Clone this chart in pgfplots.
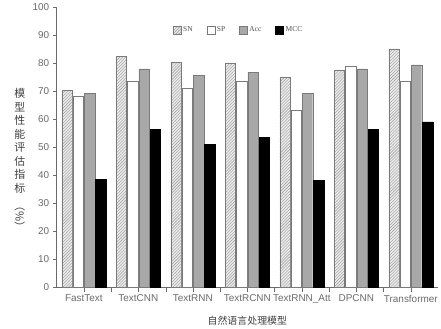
\documentclass[border=0pt]{standalone}
\usepackage{pgfplots}
\pgfplotsset{compat=1.18}
\usepackage{fontspec}
\setmainfont{Liberation Serif}
\newfontfamily\arial{Liberation Sans}
\newfontfamily\cjk{Noto Sans CJK SC}
\usetikzlibrary{patterns}
\definecolor{tickgray}{HTML}{6A6A6A}
\definecolor{edgegray}{HTML}{7A7A7A}
\definecolor{accgray}{HTML}{A8A8A8}
\begin{document}
\begin{tikzpicture}
\begin{axis}[
  scale only axis, width=384pt, height=282.6pt,
  ymin=0, ymax=100, xmin=-0.5, xmax=6.5, clip=false,
  axis x line*=bottom, axis y line*=left,
  axis line style={tickgray, -},
  xtick={0,...,6},
  xticklabels={FastText,TextCNN,TextRNN,TextRCNN,TextRNN\_Att,DPCNN,Transformer},
  minor xtick={0.5,1.5,...,5.5},
  ytick={0,10,...,100},
  tick style={tickgray}, tick align=outside,
  major tick length=4pt, minor tick length=4pt,
  ticklabel style={font=\arial\fontsize{10}{12}\selectfont, text=tickgray},
  /pgf/number format/assume math mode=true,
  xlabel={\cjk 自然语言处理模型},
  xlabel style={at={(axis description cs:0.5,0)}, anchor=center, yshift=-33.7pt,
    font=\cjk\fontsize{10}{12}\selectfont, text=black!75, minimum height=14pt},
  ylabel={模\\型\\性\\能\\评\\估\\指\\标},
  ylabel style={rotate=-90, align=center, at={(axis description cs:0,0.523)},
    anchor=center, xshift=-37pt, minimum width=40pt,
    font=\cjk\fontsize{11}{13.6}\selectfont, text=black!75},
  bar width=0.19,
  legend style={at={(0.477,0.917)}, anchor=center, draw=none, fill=none,
    legend columns=4, font=\fontsize{7.5}{9}\selectfont, text=black!70,
    /tikz/every even column/.append style={column sep=12pt}},
  legend image code/.code={\draw[#1] (0pt,-4pt) rectangle (8pt,4pt);},
]
\addplot[ybar, bar shift=-0.31, draw=edgegray, fill=gray!15,
  postaction={pattern=north east lines, pattern color=gray!80}]
  coordinates {(0,70.2) (1,82.3) (2,80.2) (3,80.0) (4,75.0) (5,77.3) (6,85.0)};
\addlegendentry{SN}
\addplot[ybar, bar shift=-0.105, draw=edgegray, fill=white]
  coordinates {(0,68.3) (1,73.6) (2,70.9) (3,73.6) (4,63.2) (5,78.9) (6,73.6)};
\addlegendentry{SP}
\addplot[ybar, bar shift=0.105, draw=edgegray, fill=accgray]
  coordinates {(0,69.2) (1,77.9) (2,75.5) (3,76.7) (4,69.1) (5,77.9) (6,79.3)};
\addlegendentry{Acc}
\addplot[ybar, bar shift=0.31, draw=black, fill=black]
  coordinates {(0,38.5) (1,56.3) (2,51.0) (3,53.6) (4,38.2) (5,56.3) (6,59.0)};
\addlegendentry{MCC}
\node[rotate=-90, inner sep=0pt, font=\cjk\fontsize{11}{13}\selectfont, text=black!75]
  at ([xshift=-37pt]axis description cs:0,0.252) {（\%）};
\end{axis}
\end{tikzpicture}
\end{document}
